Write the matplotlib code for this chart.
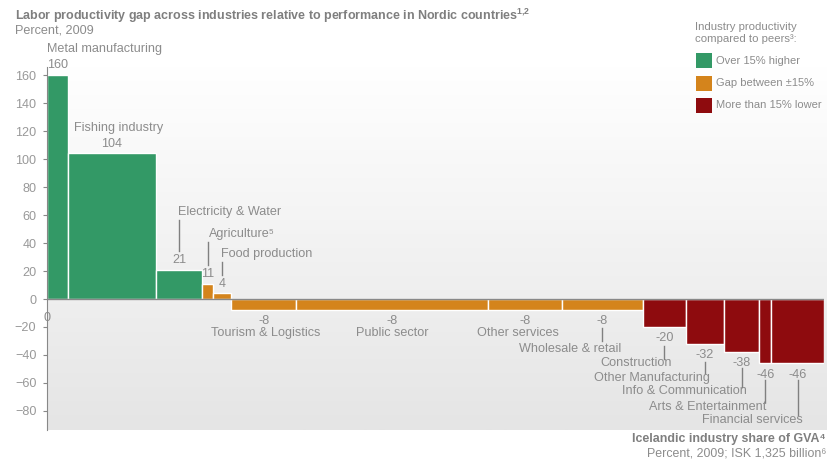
import numpy as np
import matplotlib
matplotlib.use('Agg')
import matplotlib.pyplot as plt
from matplotlib.colors import LinearSegmentedColormap
from matplotlib.patches import Rectangle

plt.rcParams['font.family'] = ['Liberation Sans', 'DejaVu Sans']
plt.rcParams['mathtext.fontset'] = 'custom'
plt.rcParams['mathtext.rm'] = 'Liberation Sans'
plt.rcParams['mathtext.bf'] = 'Liberation Sans:bold'

# Industries ordered by productivity gap (percent vs Nordic peers, 2009)
industries = ['Metal manufacturing', 'Fishing industry', 'Electricity & Water',
              'Agriculture⁵', 'Food production', 'Tourism & Logistics',
              'Public sector', 'Other services', 'Wholesale & retail',
              'Construction', 'Other Manufacturing', 'Info & Communication',
              'Arts & Entertainment', 'Financial services']
gva_share = [2.7, 11.4, 5.9, 1.4, 2.3, 8.4, 24.6, 9.5, 10.4, 5.6, 4.8, 4.6, 1.5, 6.8]
productivity_gap = [160, 104, 21, 11, 4, -8, -8, -8, -8, -20, -32, -38, -46, -46]

legend_labels = ['Over 15% higher', 'Gap between ±15%', 'More than 15% lower']
GREEN, ORANGE, RED = '#339966', '#d4841c', '#8e0b0e'
TXT = '#8c8c8c'
FS = 9.1

# name label placement (x, y, ha) and optional leader line spans (y_top, y_bottom)
name_pos = [(0.0, 179, 'left'), (9.2, 122, 'center'), (16.9, 62, 'left'),
            (20.8, 46.5, 'left'), (22.4, 32, 'left'), (28.2, -24.3, 'center'),
            (44.4, -24.3, 'center'), (60.6, -24.3, 'center'), (67.3, -35.7, 'center'),
            (80.3, -45.7, 'right'), (85.2, -56.4, 'right'), (90.0, -65.7, 'right'),
            (92.5, -77.1, 'right'), (97.2, -86.4, 'right')]
leaders = [None, None, (56.4, 34.3), (40.7, 24.3), (26.4, 17.1), None, None, None,
           (-20.7, -30.0), (-33.6, -42.9), (-45.0, -52.9), (-49.3, -62.9),
           (-57.9, -73.6), (-57.9, -82.9)]


def colour(v):
    if v > 15:
        return GREEN
    if v < -15:
        return RED
    return ORANGE


W, H = 827, 461
fig = plt.figure(figsize=(W / 100, H / 100), dpi=100)
ax = fig.add_axes([46.7 / W, (H - 430) / H, (824 - 46.7) / W, (430 - 66.7) / H])

ymin, ymax = -93.6, 166
ax.set_xlim(0, sum(gva_share))
ax.set_ylim(ymin, ymax)

# soft vertical background gradient
grad = LinearSegmentedColormap.from_list('bg', ['#ffffff', '#e5e5e5'])
ax.imshow(np.linspace(0, 1, 256)[:, None], extent=[0, 100.5, ymin, ymax],
          aspect='auto', cmap=grad, zorder=0, origin='upper', clip_on=False)

lefts = np.concatenate([[0], np.cumsum(gva_share)[:-1]])
ax.bar(lefts, productivity_gap, width=gva_share, align='edge',
       color=[colour(v) for v in productivity_gap],
       edgecolor='white', linewidth=1, zorder=2)
ax.axhline(0, color='#888888', lw=1, zorder=3)

for left, w, v, name, (nx, ny, ha), ld in zip(lefts, gva_share, productivity_gap,
                                               industries, name_pos, leaders):
    cx = left + w / 2
    vy = v + 7 if v > 0 else v - 8
    ax.text(cx, vy, f'{v}', ha='center', va='center', fontsize=FS, color=TXT,
            clip_on=False)
    ax.text(nx, ny, name, ha=ha, va='center', fontsize=FS, color=TXT, clip_on=False)
    if ld:
        ax.plot([cx, cx], ld, color='#808080', lw=1, zorder=3)

ax.text(0, -13.6, '0', ha='center', va='center', fontsize=FS, color=TXT)

for side in ['top', 'right', 'bottom']:
    ax.spines[side].set_visible(False)
ax.spines['left'].set_color('#888888')
ax.spines['left'].set_zorder(4)
ax.set_xticks([])
ax.set_yticks(range(-80, 161, 20))
ax.tick_params(axis='y', length=3, color='#888888', labelcolor='#999999',
               labelsize=FS, pad=4.5)

# titles
fig.text(15 / W, 1 - 16 / H, r'Labor productivity gap across industries relative to '
         r'performance in Nordic countries$^{\mathbf{1{,}2}}$',
         fontsize=9.0, fontweight='bold', color='#7f7f7f', va='center')
fig.text(15 / W, 1 - 30.5 / H, 'Percent, 2009', fontsize=9.1, color='#8c8c8c',
         va='center')
fig.text(826 / W, 1 - 438.5 / H, 'Icelandic industry share of GVA⁴',
         fontsize=8.9, fontweight='bold', color='#7f7f7f', ha='right', va='center')
fig.text(826 / W, 1 - 453 / H, 'Percent, 2009; ISK 1,325 billion⁶',
         fontsize=8.9, color='#8c8c8c', ha='right', va='center')

# legend
fig.text(695 / W, 1 - 26.5 / H, 'Industry productivity', fontsize=8.2, color=TXT,
         va='center')
fig.text(695 / W, 1 - 39 / H, 'compared to peers³:', fontsize=8.2, color=TXT,
         va='center')
for i, (lab, c) in enumerate(zip(legend_labels, [GREEN, ORANGE, RED])):
    top = 53 + i * 22.5
    fig.add_artist(Rectangle((696 / W, 1 - (top + 15) / H), 15.5 / W, 15 / H,
                             transform=fig.transFigure, facecolor=c, edgecolor='none'))
    fig.text(716 / W, 1 - (top + 7.5) / H, lab, fontsize=8.0, color=TXT, va='center')

fig.savefig('out.png', dpi=100)
